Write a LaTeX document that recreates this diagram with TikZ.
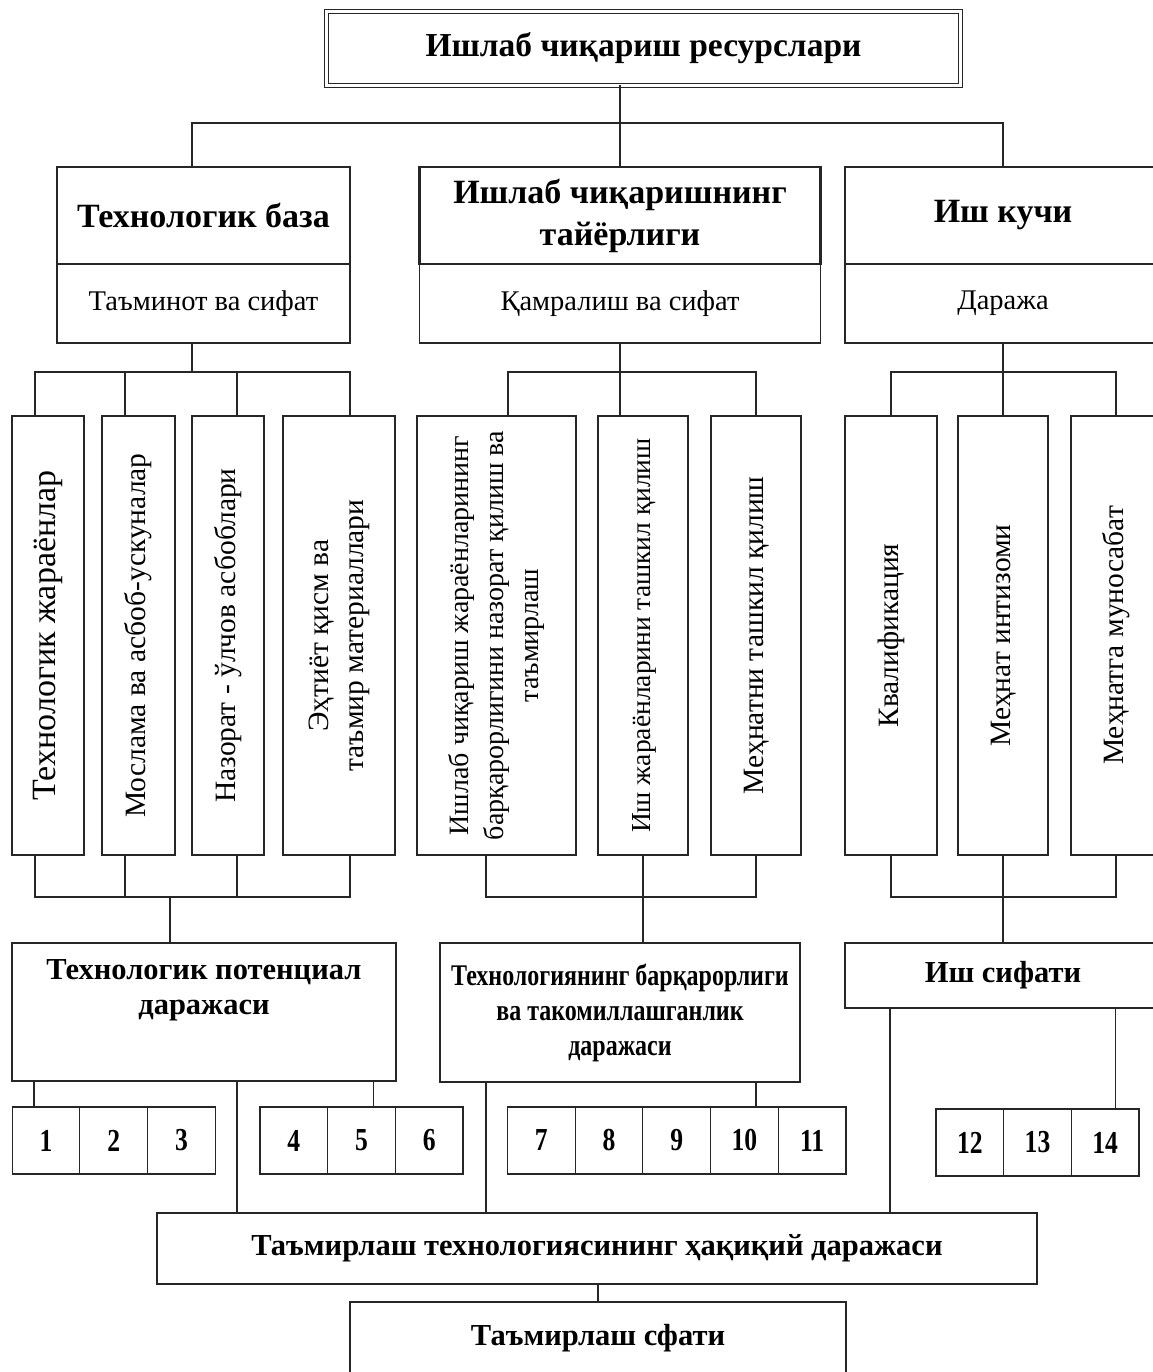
\documentclass[tikz,border=0pt]{standalone}
\usepackage{fontspec}
\usepackage{graphicx}
\setmainfont{Liberation Serif}
\newfontfamily\condfont[FakeStretch=0.8]{Liberation Serif}
\usetikzlibrary{positioning}

\newcommand{\vlab}[1]{\rotatebox{90}{\begin{tabular}{@{}c@{}}#1\end{tabular}}}

\tikzstyle{frame} = [rectangle, draw = black!85, line width = 1.2pt,
  inner sep = 0, outer sep = 0, align = center, text centered]
\tikzstyle{title} = [frame, double, line width = 1.4pt, double distance = 2.6pt,
  font = \fontsize{33.5}{40}\selectfont\bfseries]
\tikzstyle{head} = [frame, line width = 2.6pt,
  font = \fontsize{34}{42}\selectfont\bfseries]
\tikzstyle{sub} = [frame, font = \fontsize{28.5}{34}\selectfont]
\tikzstyle{col} = [frame, font = \fontsize{29.5}{35}\selectfont]
\tikzstyle{result} = [frame, font = \fontsize{30.5}{35}\selectfont\bfseries]
\tikzstyle{captext} = [inner sep = 0, align = center,
  font = \fontsize{30.5}{35}\selectfont\bfseries]
\tikzstyle{cond} = [frame, font = \fontsize{30}{35}\condfont\bfseries]
\tikzstyle{num} = [frame, minimum width = 67.7, minimum height = 67,
  font = \fontsize{32}{36}\condfont\bfseries]
\tikzstyle{link} = [draw = black!85, line width = 1.2pt]

\begin{document}
\begin{tikzpicture}[x = 1pt, y = -1pt]
    \useasboundingbox (0, 0) rectangle (1152, 1372);
    \fill [white] (0, 0) rectangle (1152, 1372);

    \node [title, minimum width = 634, minimum height = 74] (res) at (643.5, 48.5)
      {Ишлаб чиқариш ресурслари};

    % second row
    \node [sub, minimum width = 293, minimum height = 79] (baseq) at (203.5, 303.5)
      {Таъминот ва сифат};
    \node [head, minimum width = 293, minimum height = 97] (base) at (203.5, 215.5)
      {Технологик база};
    \node [sub, minimum width = 401, minimum height = 79] (readyq) at (620, 303.5)
      {Қамралиш ва сифат};
    \node [head, minimum width = 401, minimum height = 97] (ready) at (620, 215.5)
      {Ишлаб чиқаришнинг\\тайёрлиги};
    \node [sub, minimum width = 316, minimum height = 79] (laborq) at (1003, 303.5)
      {Даража};
    \node [head, minimum width = 316, minimum height = 97] (labor) at (1003, 215.5)
      {Иш кучи};

    % columns
    \node [col, minimum width = 72, minimum height = 439, font = \fontsize{34}{38}\selectfont]
      (v1) at (48, 635.5) {\vlab{Технологик жараёнлар}};
    \node [col, minimum width = 73, minimum height = 439] (v2) at (138.5, 635.5)
      {\vlab{Мослама ва асбоб-ускуналар}};
    \node [col, minimum width = 72, minimum height = 439] (v3) at (228, 635.5)
      {\vlab{Назорат - ўлчов асбоблари}};
    \node [col, minimum width = 112, minimum height = 439] (v4) at (339, 635.5)
      {\vlab{Эҳтиёт қисм ва\\таъмир материаллари}};
    \node [col, minimum width = 159, minimum height = 439, font = \fontsize{28}{35}\selectfont]
      (v5) at (496.5, 635.5)
      {\vlab{Ишлаб чиқариш жараёнларининг\\барқарорлигини назорат қилиш ва\\таъмирлаш}};
    \node [col, minimum width = 90, minimum height = 439, font = \fontsize{27.5}{35}\selectfont]
      (v6) at (643, 635.5) {\vlab{Иш жараёнларини ташкил қилиш}};
    \node [col, minimum width = 90, minimum height = 439] (v7) at (756, 635.5)
      {\vlab{Меҳнатни ташкил қилиш}};
    \node [col, minimum width = 92, minimum height = 439] (v8) at (891, 635.5)
      {\vlab{Квалификация}};
    \node [col, minimum width = 90, minimum height = 439] (v9) at (1003, 635.5)
      {\vlab{Меҳнат интизоми}};
    \node [col, minimum width = 90, minimum height = 439] (v10) at (1116, 635.5)
      {\vlab{Меҳнатга муносабат}};

    % fourth row
    \node [frame, minimum width = 384, minimum height = 138] (pot) at (204, 1012) {};
    \node [captext, below = 16pt of pot.north] (pot-t) {Технологик потенциал\\даражаси};
    \node [cond, minimum width = 360, minimum height = 139] (stab) at (620, 1012.5)
      {Технологиянинг барқарорлиги\\ва такомиллашганлик\\даражаси};
    \node [result, minimum width = 316, minimum height = 65] (qual) at (1003, 975.5)
      {Иш сифати};

    % numbered cells
    \node [num] (n1) at (46, 1140.5) {1};
    \node [num, right = 0pt of n1] (n2) {2};
    \node [num, right = 0pt of n2] (n3) {3};
    \node [num] (n4) at (293.8, 1140.5) {4};
    \node [num, right = 0pt of n4] (n5) {5};
    \node [num, right = 0pt of n5] (n6) {6};
    \node [num] (n7) at (541.3, 1140.5) {7};
    \node [num, right = 0pt of n7] (n8) {8};
    \node [num, right = 0pt of n8] (n9) {9};
    \node [num, right = 0pt of n9] (n10) {10};
    \node [num, right = 0pt of n10] (n11) {11};
    \node [num] (n12) at (969.8, 1142.5) {12};
    \node [num, right = 0pt of n12] (n13) {13};
    \node [num, right = 0pt of n13] (n14) {14};

    \node [result, minimum width = 880, minimum height = 71] (final) at (597, 1248.5)
      {Таъмирлаш технологиясининг ҳақиқий даражаси};
    \node [result, minimum width = 496, minimum height = 73] (fin2) at (598, 1338.5)
      {Таъмирлаш сфати};

    % top tree
    \draw [link] (ready.north |- res.south) -- (ready.north);
    \draw [link] ([xshift = -11.5]base.north) -- +(0, -44) -| (labor.north);
    \draw [link] ([xshift = -11.5]baseq.south) -- +(0, 29);
    \draw [link] (readyq.south) -- +(0, 29);
    \draw [link] (laborq.south) -- +(0, 29);

    % to columns
    \draw [link] ([xshift = -13]v1.north) -- +(0, -44) -| ([xshift = 11]v4.north);
    \draw [link] ([xshift = -13.5]v2.north) -- +(0, -44);
    \draw [link] ([xshift = 9]v3.north) -- +(0, -44);
    \draw [link] ([xshift = 11.5]v5.north) -- +(0, -44) -| (v7.north);
    \draw [link] ([xshift = -23]v6.north) -- +(0, -44);
    \draw [link] (v8.north) -- +(0, -44) -| (v10.north);
    \draw [link] (v9.north) -- +(0, -44);

    % from columns
    \draw [link] ([xshift = -13]v1.south) -- +(0, 42) -| ([xshift = 11]v4.south);
    \draw [link] ([xshift = -13.5]v2.south) -- +(0, 42);
    \draw [link] ([xshift = 9]v3.south) -- +(0, 42);
    \draw [link] ([xshift = -34]pot.north) -- +(0, -46);
    \draw [link] ([xshift = -10.5]v5.south) -- +(0, 42) -| (v7.south);
    \draw [link] (v6.south) -- (v6.south |- stab.north);
    \draw [link] (v8.south) -- +(0, 42) -| (v10.south);
    \draw [link] (v9.south) -- (v9.south |- qual.north);

    % to cells and result
    \draw [link] ([xshift = -12]n1.north) -- ([xshift = -12]n1.north |- pot.south);
    \draw [link] ([xshift = 12]n5.north) -- ([xshift = 12]n5.north |- pot.south);
    \draw [link] ([xshift = 11.5]n10.north) -- ([xshift = 11.5]n10.north |- stab.south);
    \draw [link] ([xshift = 10]n14.north) -- ([xshift = 10]n14.north |- qual.south);
    \draw [link] ([xshift = 33]pot.south) -- ([xshift = 33]pot.south |- final.north);
    \draw [link] ([xshift = -134]stab.south) -- ([xshift = -134]stab.south |- final.north);
    \draw [link] ([xshift = -113]qual.south) -- ([xshift = -113]qual.south |- final.north);
    \draw [link] (fin2.north) -- (fin2.north |- final.south);
  \end{tikzpicture}
\end{document}
